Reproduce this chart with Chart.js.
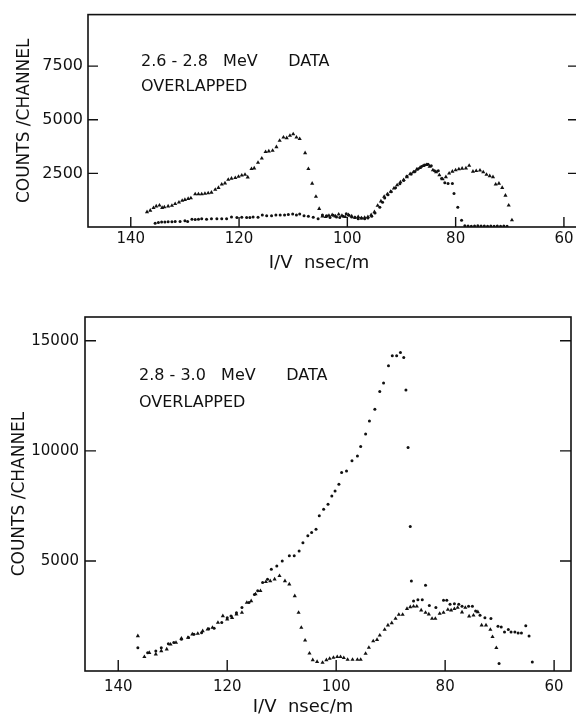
<!DOCTYPE html>
<html>
<head>
<meta charset="utf-8">
<script src="https://cdn.jsdelivr.net/npm/chart.js@4.4.0/dist/chart.umd.min.js"></script>
<style>
  html, body { margin: 0; padding: 0; background: #fff; overflow: hidden; width: 576px; height: 719px; }
  canvas { position: absolute; left: 0; }
  #top { top: 0; }
  #bottom { top: 290px; }
</style>
</head>
<body>
<canvas id="top" width="582" height="290"></canvas>
<canvas id="bottom" width="576" height="429"></canvas>
<script>
// axis ticks
const xTicks = [140, 120, 100, 80, 60];
const yTicksTop = [2500, 5000, 7500];
const yTicksBottom = [5000, 10000, 15000];

// 2.6 - 2.8 MeV panel: triangles
const topTriX = [137.0,136.4,135.8,135.3,134.7,134.2,133.8,133.1,132.4,131.8,131.1,130.5,130.0,129.4,128.9,128.1,127.5,126.9,126.3,125.7,125.1,124.4,123.8,123.2,122.6,122.0,121.4,120.7,120.1,119.5,118.9,118.4,117.7,117.2,116.5,115.8,115.1,114.5,113.8,113.1,112.5,111.8,111.2,110.6,110.0,109.4,108.8,107.8,107.2,106.5,105.8,105.2,104.6,
  104.0,103.4,102.8,102.2,101.6,101.0,100.4,99.8,99.2,98.6,98.0,97.4,96.8,96.2,95.6,95.0,
  94.4,93.8,93.2,92.6,92.0,91.4,90.8,90.2,89.6,89.0,88.4,87.8,87.2,86.6,86.0,85.4,84.8,84.2,83.6,83.0,82.4,81.8,81.2,80.6,80.0,79.4,78.8,78.1,77.5,76.8,76.2,75.5,74.9,74.3,73.7,73.1,72.6,72.0,71.4,70.8,70.2,69.6];
const topTriY = [700,770,890,970,1010,900,930,970,1000,1080,1150,1230,1270,1320,1350,1530,1530,1530,1560,1580,1610,1740,1830,1990,2040,2210,2260,2290,2350,2410,2440,2320,2710,2740,3000,3200,3500,3530,3560,3730,4030,4180,4150,4260,4330,4180,4110,3450,2710,2030,1420,850,500,
  470,530,560,500,590,530,470,560,500,440,470,410,440,470,560,700,
  1000,1200,1420,1530,1650,1800,1950,2090,2200,2330,2470,2560,2680,2760,2850,2900,2820,2650,2560,2420,2230,2330,2500,2590,2650,2700,2730,2740,2860,2590,2620,2640,2560,2440,2380,2330,1990,2030,1830,1470,1010,320];

// 2.6 - 2.8 MeV panel: dots
const topDotX = [135.5,134.9,134.3,133.7,133.1,132.4,131.8,130.9,130.0,129.5,128.7,128.1,127.5,126.9,126.0,125.1,124.1,123.2,122.3,121.4,120.4,119.5,118.6,118.0,117.4,116.5,115.7,114.9,114.0,113.2,112.4,111.6,110.9,110.1,109.4,108.8,108.0,107.2,106.3,105.4,104.6,103.8,103.2,102.6,102.0,101.4,100.8,100.2,99.7,99.2,98.6,98.0,97.4,96.8,96.2,95.5,94.9,94.0,93.5,93.1,92.5,91.9,91.1,90.3,89.6,89.0,88.2,87.5,86.9,86.3,85.7,85.1,84.5,83.9,83.2,82.6,82.0,81.4,80.6,80.3,79.6,78.9,78.3,77.7,77.1,76.5,75.9,75.3,74.7,74.1,73.5,72.9,72.3,71.7,71.1,70.5];
const topDotY = [170,210,230,230,240,240,260,260,290,260,360,350,360,380,360,390,380,390,390,470,440,455,440,440,470,455,560,530,530,560,560,560,580,610,560,610,530,500,450,390,560,530,440,545,470,440,500,620,545,470,440,390,420,390,420,500,650,920,1150,1350,1500,1640,1830,2015,2170,2360,2470,2590,2710,2820,2890,2920,2850,2620,2620,2260,2060,2030,2030,1560,920,320,60,50,40,50,60,50,50,40,50,40,50,40,50,40];

// 2.8 - 3.0 MeV panel: triangles
const botTriX = [136.4,135.2,134.3,133.1,132.1,131.1,130.4,129.4,128.4,127.2,126.4,125.4,124.5,123.6,122.7,121.7,120.8,120.0,119.1,118.3,117.3,116.4,115.6,114.8,113.9,112.9,112.1,111.3,110.4,109.4,108.6,107.6,106.9,106.4,105.7,104.9,104.3,103.5,102.5,101.8,101.2,100.5,99.8,99.2,98.6,97.9,97.0,96.1,95.5,94.6,94.0,93.2,92.5,92.0,91.1,90.5,89.8,89.1,88.5,87.8,87.0,86.4,85.8,85.2,84.4,83.6,83.0,82.4,81.8,81.0,80.3,79.5,78.9,78.3,77.7,76.9,76.3,75.6,74.8,74.0,73.3,72.5,71.7,71.3,70.6];
const botTriY = [1590,640,830,760,910,990,1210,1290,1480,1520,1670,1700,1820,1890,1970,2200,2500,2350,2420,2580,2650,3110,3180,3490,3640,4050,4090,4170,4320,4090,3940,3410,2650,1970,1390,800,500,420,380,500,560,610,640,640,600,520,520,520,520,790,1060,1360,1420,1620,1880,2080,2180,2380,2560,2560,2830,2910,2940,2940,2760,2650,2580,2380,2380,2610,2650,2790,2760,2820,2880,2670,2880,2490,2530,2680,2080,2080,1880,1550,1050];

// 2.8 - 3.0 MeV panel: dots
const botDotX = [136.4,134.6,133.1,132.1,130.8,129.8,128.4,127.1,126.1,124.7,123.4,122.4,121.0,120.0,119.3,118.3,117.3,116.0,115.0,114.4,113.5,112.6,111.9,110.9,109.9,108.6,107.7,106.8,106.1,105.2,104.5,103.7,103.1,102.3,101.5,100.8,100.2,99.5,99.0,98.1,97.1,96.1,95.5,94.6,93.9,92.9,92.0,91.3,90.4,89.7,88.9,88.2,87.6,87.2,86.8,86.4,86.2,85.8,85.0,84.2,83.6,82.9,81.7,80.3,79.7,79.1,78.3,77.5,76.9,75.7,75.0,74.4,73.6,72.7,71.6,70.3,69.7,69.1,68.4,67.9,67.2,66.6,66.0,65.2,64.6,70.1,64.0];
const botDotY = [1060,830,910,1060,1240,1290,1440,1520,1670,1740,1920,1940,2200,2420,2500,2650,2880,3110,3480,3640,4020,4170,4620,4770,5000,5230,5230,5450,5830,6140,6290,6440,7050,7350,7580,7950,8180,8480,9020,9090,9550,9770,10200,10760,11360,11890,12700,13080,13860,14320,14320,14470,14240,12760,10150,6560,4090,3180,3240,3240,3890,2970,2880,3210,3210,3030,3060,3030,2940,2940,2940,2730,2530,2420,2380,2030,2000,1770,1880,1770,1770,1730,1730,2050,1590,340,410];

const INK = '#111';
const FONT = '"DejaVu Sans", sans-serif';

function pts(xs, ys) {
  return xs.map((x, i) => ({ x: x, y: ys[i] }));
}

// box, inward tick marks and the free text on the plot
const framePlugin = {
  id: 'frame',
  afterDraw(chart, args, opts) {
    const { ctx, chartArea: a, scales } = chart;
    ctx.save();
    ctx.strokeStyle = INK;
    ctx.lineWidth = 1.6;
    ctx.strokeRect(a.left, a.top, a.right - a.left, a.bottom - a.top);
    ctx.lineWidth = 1.4;
    ctx.beginPath();
    scales.x.ticks.forEach(t => {
      const px = scales.x.getPixelForValue(t.value);
      ctx.moveTo(px, a.bottom);
      ctx.lineTo(px, a.bottom - opts.tickLen);
    });
    scales.y.ticks.forEach(t => {
      const py = scales.y.getPixelForValue(t.value);
      ctx.moveTo(a.left, py);
      ctx.lineTo(a.left + opts.tickLen, py);
      ctx.moveTo(a.right, py);
      ctx.lineTo(a.right - opts.tickLen, py);
    });
    ctx.stroke();

    ctx.fillStyle = INK;
    ctx.textBaseline = 'middle';
    ctx.textAlign = 'left';
    ctx.font = '16px ' + FONT;
    opts.notes.forEach(n => ctx.fillText(n.text, n.x, n.y));
    ctx.textAlign = 'center';
    ctx.font = '18px ' + FONT;
    ctx.fillText(opts.xTitle.text, opts.xTitle.x, opts.xTitle.y);
    ctx.restore();
  }
};

function makeChart(id, cfg) {
  return new Chart(document.getElementById(id), {
    type: 'scatter',
    data: {
      datasets: [
        {
          data: pts(cfg.triX, cfg.triY),
          pointStyle: 'triangle',
          pointRadius: 2.4,
          backgroundColor: INK,
          borderColor: INK,
          borderWidth: 0
        },
        {
          data: pts(cfg.dotX, cfg.dotY),
          pointStyle: 'circle',
          pointRadius: 1.5,
          backgroundColor: INK,
          borderColor: INK,
          borderWidth: 0
        }
      ]
    },
    options: {
      responsive: false,
      animation: false,
      layout: { padding: cfg.pad },
      plugins: {
        legend: { display: false },
        tooltip: { enabled: false },
        frame: cfg.frame
      },
      scales: {
        x: {
          type: 'linear',
          reverse: true,
          min: cfg.xMin,
          max: cfg.xMax,
          grid: { display: false, drawTicks: false },
          border: { display: false },
          afterBuildTicks: axis => { axis.ticks = xTicks.map(v => ({ value: v })); },
          afterFit: axis => { axis.height = cfg.xHeight; },
          ticks: {
            color: INK, padding: cfg.xPad, font: { family: FONT, size: 15 },
            callback: v => String(v)
          }
        },
        y: {
          type: 'linear',
          min: 0,
          max: cfg.yMax,
          grid: { display: false, drawTicks: false },
          border: { display: false },
          afterBuildTicks: axis => { axis.ticks = cfg.yTicks.map(v => ({ value: v })); },
          afterFit: axis => { axis.width = cfg.yWidth; },
          ticks: {
            color: INK, padding: cfg.yPad, font: { family: FONT, size: cfg.yFont },
            callback: v => String(v)
          },
          title: {
            display: true,
            text: 'COUNTS /CHANNEL',
            color: INK,
            font: { family: FONT, size: 17 },
            padding: { top: cfg.titlePad, bottom: 0 }
          }
        }
      }
    },
    plugins: [framePlugin]
  });
}

makeChart('top', {
  triX: topTriX, triY: topTriY, dotX: topDotX, dotY: topDotY,
  xMin: 57.4, xMax: 147.9, yMax: 9900, yTicks: yTicksTop,
  pad: { top: 9, right: 4, left: 0, bottom: 0 },
  xHeight: 63, yWidth: 88, xPad: 3, yPad: 5, yFont: 16, titlePad: 14,
  frame: {
    tickLen: 10,
    notes: [
      { text: '2.6 - 2.8   MeV      DATA', x: 141, y: 62 },
      { text: 'OVERLAPPED', x: 141, y: 87 }
    ],
    xTitle: { text: 'I/V  nsec/m', x: 319, y: 263 }
  }
});

makeChart('bottom', {
  triX: botTriX, triY: botTriY, dotX: botDotX, dotY: botDotY,
  xMin: 56.9, xMax: 146.1, yMax: 16080, yTicks: yTicksBottom,
  pad: { top: 27, right: 5, left: 0, bottom: 0 },
  xHeight: 48, yWidth: 85, xPad: 7, yPad: 6, yFont: 15, titlePad: 9,
  frame: {
    tickLen: 11,
    notes: [
      { text: '2.8 - 3.0   MeV      DATA', x: 139, y: 86 },
      { text: 'OVERLAPPED', x: 139, y: 113 }
    ],
    xTitle: { text: 'I/V  nsec/m', x: 303, y: 417 }
  }
});
</script>
</body>
</html>
